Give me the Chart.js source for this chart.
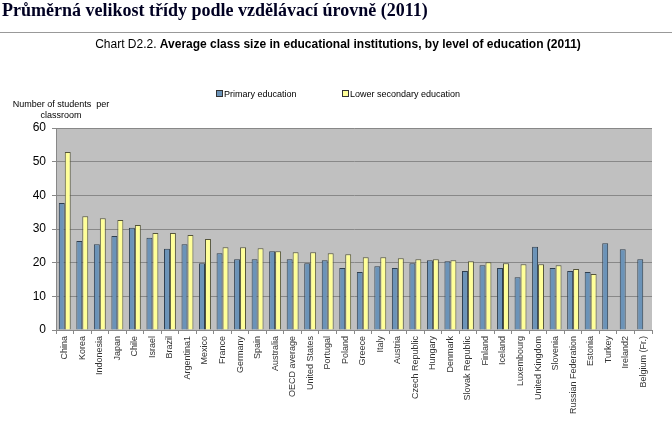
<!DOCTYPE html>
<html>
<head>
<meta charset="utf-8">
<script src="https://cdn.jsdelivr.net/npm/chart.js@4/dist/chart.umd.min.js"></script>
<style>
  html, body { margin: 0; padding: 0; background: #fff; }
  #wrap { position: relative; width: 672px; height: 424px; overflow: hidden; }
  #myChart { position: absolute; left: 0; top: 0; }
  .head { position: absolute; left: 2px; top: 0px; font: bold 18px "Liberation Serif", "Times New Roman", serif; color: #000022; white-space: nowrap; }
  .rule { position: absolute; left: 0; top: 32px; width: 672px; height: 1px; background: #999; }
  .sub { position: absolute; left: 2px; top: 37px; width: 672px; text-align: center; font: 12px "Liberation Sans", Arial, sans-serif; color: #000; white-space: nowrap; }
  .ytitle { position: absolute; left: 0; top: 99px; width: 122px; text-align: center; font: 9px "Liberation Sans", Arial, sans-serif; line-height: 11px; color: #000; }
  .leg { position: absolute; top: 89px; font: 9px "Liberation Sans", Arial, sans-serif; color: #000; white-space: nowrap; }
  .leg i { display: inline-block; width: 5px; height: 5px; border: 1px solid #333; margin-right: 1px; vertical-align: 0px; }
</style>
</head>
<body>
<div id="wrap">
  <canvas id="myChart" width="672" height="424"></canvas>
  <div class="head">Průměrná velikost třídy podle vzdělávací úrovně (2011)</div>
  <div class="rule"></div>
  <div class="sub">Chart D2.2. <b>Average class size in educational institutions, by level of education (2011)</b></div>
  <div class="ytitle">Number of students&nbsp; per<br>classroom</div>
  <div class="leg" style="left:216px"><i style="background:#6b93b8"></i>Primary education</div>
  <div class="leg" style="left:342px"><i style="background:#ffff99"></i>Lower secondary education</div>
</div>
<script>
// values
const countries = ['China', 'Korea', 'Indonesia', 'Japan', 'Chile', 'Israel', 'Brazil', 'Argentina1',
    'Mexico', 'France', 'Germany', 'Spain', 'Australia', 'OECD average', 'United States', 'Portugal',
    'Poland', 'Greece', 'Italy', 'Austria', 'Czech Republic', 'Hungary', 'Denmark', 'Slovak Republic',
    'Finland', 'Iceland', 'Luxembourg', 'United Kingdom', 'Slovenia', 'Russian Federation', 'Estonia',
    'Turkey', 'Ireland2', 'Belgium (Fr.)'];

const primary = [37.7, 26.4, 25.5, 27.9, 30.4, 27.4, 24.1, 25.5, 19.8, 22.8, 21.0, 21.0, 23.4, 21.0, 19.8, 20.7,
    18.4, 17.2, 18.9, 18.4, 19.8, 20.7, 20.4, 17.5, 19.2, 18.4, 15.7, 24.7, 18.4, 17.5, 17.2,
    25.8, 24.0, 21.0];

const lowerSecondary = [52.9, 33.8, 33.2, 32.7, 31.2, 28.8, 28.8, 28.2, 27.0, 24.6, 24.6, 24.3, 23.4, 23.1, 23.1, 22.8,
    22.5, 21.6, 21.6, 21.3, 21.0, 21.0, 20.7, 20.4, 20.1, 19.8, 19.5, 19.5, 19.2, 18.1, 16.6,
    null, null, null];

const yTicks = [0, 10, 20, 30, 40, 50, 60];

// grey plot background like the original office chart
const plotBg = {
    id: 'plotBg',
    beforeDraw(chart) {
        const { ctx, chartArea: a } = chart;
        ctx.save();
        ctx.fillStyle = '#c0c0c0';
        ctx.fillRect(a.left, a.top, a.right - a.left, a.bottom - a.top);
        ctx.restore();
    }
};

const ctx = document.getElementById('myChart').getContext('2d');
new Chart(ctx, {
    type: 'bar',
    data: {
        labels: countries,
        datasets: [{
            label: 'Primary education',
            data: primary,
            backgroundColor: '#6b93b8',
            borderColor: '#2f3f4f',
            borderWidth: 1
        }, {
            label: 'Lower secondary education',
            data: lowerSecondary,
            backgroundColor: '#ffff99',
            borderColor: '#55553a',
            borderWidth: 1
        }]
    },
    options: {
        responsive: false,
        animation: false,
        layout: { padding: { top: 128, right: 20, left: 0, bottom: 0 } },
        datasets: { bar: { categoryPercentage: 0.68, barPercentage: 1.0 } },
        plugins: { legend: { display: false }, tooltip: { enabled: false } },
        scales: {
            x: {
                afterFit(s) { s.height = 94; },
                border: { color: '#888' },
                grid: { offset: true, drawOnChartArea: false, drawTicks: true, tickLength: 4, color: '#888' },
                ticks: {
                    autoSkip: false, minRotation: 90, maxRotation: 90, padding: 2,
                    color: '#333', font: { family: 'Liberation Sans, Arial', size: 9 }
                }
            },
            y: {
                min: 0, max: 60,
                afterFit(s) { s.width = 56; },
                afterBuildTicks(s) { s.ticks = yTicks.map(v => ({ value: v })); },
                border: { color: '#888' },
                grid: { color: '#888', tickLength: 4, drawTicks: true },
                ticks: { color: '#000', padding: 6, font: { family: 'Liberation Sans, Arial', size: 12 } }
            }
        }
    },
    plugins: [plotBg]
});
</script>
</body>
</html>
